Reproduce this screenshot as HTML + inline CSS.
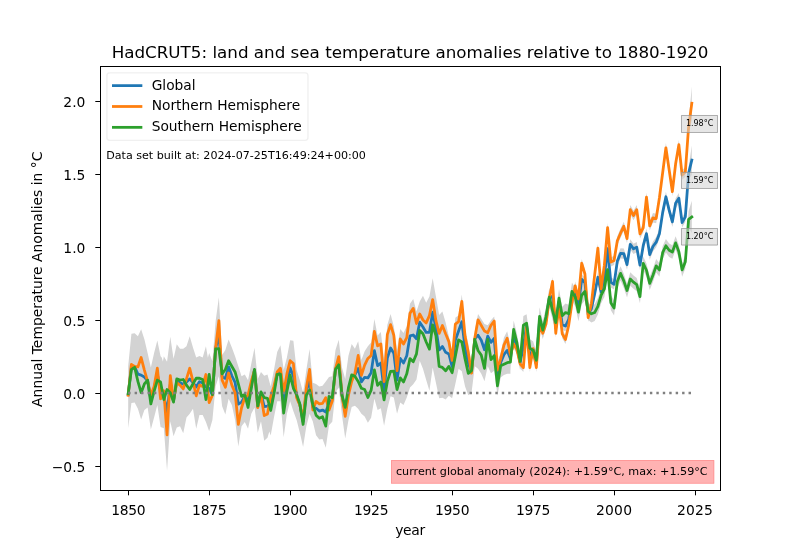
<!DOCTYPE html>
<html><head><meta charset="utf-8"><title>HadCRUT5</title><style>html,body{margin:0;padding:0;background:#fff}svg{display:block}</style></head><body>
<svg  width="800" height="550" viewBox="0 0 576 396">
 
 <defs>
  <style type="text/css">*{stroke-linejoin: round; stroke-linecap: butt}</style>
 </defs>
 <g id="figure_1">
  <g id="patch_1">
   <path d="M 0 396 
L 576 396 
L 576 0 
L 0 0 
z
" style="fill: #ffffff"/>
  </g>
  <g id="axes_1">
   <g id="patch_2">
    <path d="M 72 352.44 
L 518.4 352.44 
L 518.4 47.52 
L 72 47.52 
z
" style="fill: #ffffff"/>
   </g>
   <g id="patch_3">
    <path d="M 92.290909 263.708591 
L 94.623197 240.22605 
L 96.955486 239.955098 
L 99.287774 242.0324 
L 101.620063 237.064939 
L 103.952351 244.290336 
L 106.284639 254.225257 
L 108.616928 264.611765 
L 110.949216 254.225257 
L 113.281505 245.193511 
L 115.613793 256.483194 
L 116.430094 257.386368 
L 117.293041 260.276527 
L 117.946082 256.483194 
L 120.27837 260.547479 
L 122.610658 242.483987 
L 124.942947 258.289543 
L 127.275235 247.903035 
L 129.607524 251.064146 
L 131.939812 251.064146 
L 134.2721 249.257797 
L 136.604389 242.0324 
L 138.936677 250.160971 
L 141.268966 257.386368 
L 143.601254 256.302559 
L 145.933542 257.386368 
L 148.265831 249.257797 
L 149.665204 257.567003 
L 150.598119 254.225257 
L 152.930408 260.095892 
L 155.262696 231.194304 
L 157.594984 214.086344 
L 159.927273 255.632377 
L 162.259561 252.019678 
L 164.59185 244.523329 
L 166.924138 250.213329 
L 169.256426 256.535552 
L 171.588715 263.760949 
L 173.921003 270.986346 
L 176.253292 269.631584 
L 178.58558 273.695869 
L 180.917868 261.954599 
L 183.250157 250.303647 
L 185.582445 272.792695 
L 187.914734 267.825234 
L 190.247022 270.534758 
L 192.57931 269.631584 
L 194.911599 278.211743 
L 197.243887 266.470472 
L 199.576176 253.37444 
L 201.908464 248.587615 
L 204.240752 266.470472 
L 206.573041 257.438726 
L 208.905329 244.974916 
L 211.237618 245.426504 
L 213.569906 266.470472 
L 215.902194 273.695869 
L 218.234483 282.727616 
L 220.566771 266.470472 
L 222.89906 251.297139 
L 225.231348 275.502219 
L 227.563636 276.405393 
L 229.895925 278.211743 
L 232.228213 277.760155 
L 234.560502 274.599044 
L 236.89279 271.437933 
L 239.225078 270.986346 
L 241.557367 252.019678 
L 243.889655 244.613646 
L 246.221944 264.664123 
L 248.554232 272.792695 
L 250.88652 256.083964 
L 253.218809 247.68444 
L 255.551097 251.116504 
L 257.883386 245.697456 
L 260.215674 259.245075 
L 262.547962 252.922853 
L 264.880251 249.310155 
L 267.212539 246.600631 
L 269.544828 229.711265 
L 271.877116 241.63317 
L 274.209404 239.104281 
L 276.541693 259.245075 
L 278.873981 233.956186 
L 281.20627 226.008249 
L 283.538558 234.859361 
L 285.870846 252.019678 
L 288.203135 236.936662 
L 290.535423 239.826821 
L 292.867712 234.859361 
L 295.2 218.782852 
L 297.532288 215.248691 
L 299.864577 224.280437 
L 302.196865 217.05504 
L 304.529154 212.990754 
L 306.861442 217.958215 
L 309.19373 213.442341 
L 311.526019 200.346309 
L 313.858307 213.442341 
L 316.190596 226.809326 
L 318.522884 224.280437 
L 320.855172 232.228374 
L 323.187461 242.163294 
L 325.519749 253.904565 
L 327.852038 228.79631 
L 330.184326 226.989961 
L 332.516614 212.087579 
L 334.848903 236.744247 
L 337.181191 247.582342 
L 339.51348 262.936311 
L 341.845768 238.550596 
L 344.178056 226.086786 
L 346.510345 229.699485 
L 348.842633 233.312183 
L 351.174922 234.215358 
L 353.50721 230.602659 
L 355.839498 227.893135 
L 358.171787 260.226787 
L 360.504075 253.904565 
L 362.836364 243.066469 
L 365.168652 238.550596 
L 367.50094 248.392581 
L 367.50094 269.126329 
L 365.168652 269.168216 
L 362.836364 270.07139 
L 360.504075 271.87774 
L 358.171787 284.973772 
L 355.839498 266.910279 
L 353.50721 268.716628 
L 351.174922 263.749168 
L 348.842633 274.587264 
L 346.510345 269.168216 
L 344.178056 265.555517 
L 341.845768 263.749168 
L 339.51348 282.715835 
L 337.181191 284.522184 
L 334.848903 278.199962 
L 332.516614 267.361867 
L 330.184326 265.555517 
L 327.852038 276.393613 
L 325.519749 286.780121 
L 323.187461 284.973772 
L 320.855172 287.683296 
L 318.522884 286.328534 
L 316.190596 286.780121 
L 313.858307 275.490438 
L 311.526019 264.652343 
L 309.19373 281.361073 
L 306.861442 273.684089 
L 304.529154 265.555517 
L 302.196865 259.684882 
L 299.864577 273.232502 
L 297.532288 276.574248 
L 295.2 279.023291 
L 292.867712 286.248688 
L 290.535423 291.667736 
L 288.203135 289.861386 
L 285.870846 297.989958 
L 283.538558 286.248688 
L 281.20627 285.345513 
L 278.873981 294.377259 
L 276.541693 306.570117 
L 274.209404 293.925672 
L 271.877116 295.280434 
L 269.544828 287.151862 
L 267.212539 300.699482 
L 264.880251 304.31218 
L 262.547962 299.796307 
L 260.215674 297.989958 
L 257.883386 294.377259 
L 255.551097 292.119323 
L 253.218809 293.022497 
L 250.88652 302.505831 
L 248.554232 315.692181 
L 246.221944 298.893133 
L 243.889655 279.023291 
L 241.557367 282.635989 
L 239.225078 303.589641 
L 236.89279 306.11853 
L 234.560502 322.375673 
L 232.228213 316.05345 
L 229.895925 316.505038 
L 227.563636 313.343927 
L 225.231348 303.409006 
L 222.89906 297.950689 
L 220.566771 306.982436 
L 218.234483 321.884817 
L 215.902194 311.498309 
L 213.569906 302.466563 
L 211.237618 296.14434 
L 208.905329 288.918943 
L 206.573041 297.950689 
L 204.240752 314.840055 
L 201.908464 288.918943 
L 199.576176 288.918943 
L 197.243887 300.660213 
L 194.911599 313.485293 
L 193.908715 310.595134 
L 192.57931 315.111007 
L 190.247022 317.368944 
L 187.914734 303.369737 
L 185.582445 311.498309 
L 183.250157 293.434816 
L 180.917868 297.950689 
L 178.58558 308.788785 
L 176.253292 303.821325 
L 173.921003 306.982436 
L 171.588715 321.43323 
L 169.256426 302.466563 
L 166.924138 291.628467 
L 164.59185 287.112594 
L 162.259561 298.402277 
L 159.927273 292.531642 
L 157.594984 270.855451 
L 155.262696 278.054669 
L 152.930408 302.440384 
L 150.598119 310.568955 
L 148.265831 303.795146 
L 145.933542 298.827685 
L 143.601254 298.827685 
L 141.268966 308.762606 
L 138.936677 294.311812 
L 136.604389 297.92451 
L 134.2721 300.634034 
L 131.939812 311.923717 
L 129.607524 306.956257 
L 127.275235 307.859431 
L 124.942947 314.181654 
L 122.610658 303.343558 
L 120.27837 339.018956 
L 117.946082 308.311019 
L 115.613793 307.407844 
L 113.281505 291.602288 
L 110.949216 300.634034 
L 108.616928 309.214193 
L 106.284639 293.408637 
L 103.952351 295.214987 
L 101.620063 301.988796 
L 99.287774 294.311812 
L 96.955486 289.795939 
L 94.623197 290.247526 
L 92.290909 308.311019 
z
" clip-path="url(#p173bf9225e)" style="fill: #d3d3d3"/>
   </g>
   <g id="patch_4">
    <path d="M 367.50094 254.555112 
L 369.833229 238.749556 
L 372.165517 245.523366 
L 374.497806 257.49043 
L 376.830094 245.704001 
L 379.162382 230.575826 
L 381.494671 254.058366 
L 383.826959 247.87162 
L 386.159248 258.348446 
L 388.491536 227.23408 
L 390.823824 235.136858 
L 393.156113 226.782492 
L 395.488401 210.931778 
L 397.82069 209.486698 
L 400.152978 232.427334 
L 402.485266 213.460667 
L 404.817555 230.169397 
L 407.149843 231.072572 
L 409.482132 226.330905 
L 411.81442 210.254397 
L 414.146708 206.190111 
L 416.478997 216.350825 
L 418.811285 197.384158 
L 421.143574 199.867889 
L 423.475862 222.718207 
L 425.80815 218.653921 
L 428.140439 207.906143 
L 430.472727 195.939079 
L 432.805016 206.641698 
L 435.137304 195.803603 
L 437.469592 175.298266 
L 439.801881 199.638823 
L 442.134169 200.993584 
L 444.466458 184.330013 
L 446.798746 178.685171 
L 449.131034 178.910965 
L 451.463323 186.813743 
L 453.795611 172.227473 
L 456.1279 175.478901 
L 458.460188 174.259616 
L 460.792476 187.26533 
L 463.124765 173.175806 
L 465.457053 164.550488 
L 467.789342 179.678663 
L 470.12163 173.808028 
L 472.453918 170.692076 
L 474.786207 164.685964 
L 477.118495 149.422313 
L 479.450784 137.997154 
L 481.783072 147.661123 
L 484.115361 156.060647 
L 486.447649 142.738821 
L 488.779937 138.990646 
L 491.112226 156.512234 
L 493.444514 152.447948 
L 495.776803 120.417187 
L 498.109091 104.747239 
L 498.109091 125.768955 
L 495.776803 129.246308 
L 493.444514 159.805549 
L 491.112226 163.869835 
L 488.779937 146.348247 
L 486.447649 150.096422 
L 484.115361 163.418248 
L 481.783072 155.018724 
L 479.450784 145.354755 
L 477.118495 156.779914 
L 474.786207 172.043565 
L 472.453918 178.049677 
L 470.12163 181.165629 
L 467.789342 187.036264 
L 465.457053 171.908089 
L 463.124765 180.533407 
L 460.792476 194.622931 
L 458.460188 181.617216 
L 456.1279 182.836502 
L 453.795611 179.585073 
L 451.463323 194.171344 
L 449.131034 186.268566 
L 446.798746 186.042772 
L 444.466458 191.687613 
L 442.134169 208.351185 
L 439.801881 206.996423 
L 437.469592 182.655867 
L 435.137304 203.161204 
L 432.805016 213.999299 
L 430.472727 203.29668 
L 428.140439 215.263744 
L 425.80815 226.011522 
L 423.475862 230.075807 
L 421.143574 207.225489 
L 418.811285 204.741759 
L 416.478997 223.708426 
L 414.146708 213.547712 
L 411.81442 217.611998 
L 409.482132 233.688506 
L 407.149843 238.430173 
L 404.817555 237.526998 
L 402.485266 220.818267 
L 400.152978 239.784935 
L 397.82069 216.844299 
L 395.488401 218.289379 
L 393.156113 234.140093 
L 390.823824 242.494459 
L 388.491536 234.591681 
L 386.159248 265.706046 
L 383.826959 255.229221 
L 381.494671 261.415967 
L 379.162382 237.933427 
L 376.830094 253.061602 
L 374.497806 264.84803 
L 372.165517 252.880967 
L 369.833229 246.107157 
L 367.50094 261.912713 
z
" clip-path="url(#p173bf9225e)" style="fill: #d3d3d3"/>
   </g>
   <g id="patch_5">
    <path d="M 367.50094 252.596925 
L 369.833229 244.468353 
L 372.165517 248.532639 
L 374.497806 258.919147 
L 376.830094 261.538354 
L 379.162382 232.636766 
L 381.494671 261.538354 
L 383.826959 247.810099 
L 386.159248 261.538354 
L 388.491536 230.920734 
L 390.823824 236.791369 
L 393.156113 230.017559 
L 395.488401 212.134702 
L 397.82069 199.490257 
L 400.152978 236.791369 
L 402.485266 216.46994 
L 404.817555 237.242956 
L 407.149843 241.307242 
L 409.482132 230.920734 
L 411.81442 214.844225 
L 414.146708 202.651368 
L 416.478997 212.134702 
L 418.811285 186.394225 
L 421.143574 194.057195 
L 423.475862 225.473657 
L 425.80815 215.524722 
L 428.140439 194.918326 
L 430.472727 175.486057 
L 432.805016 204.825218 
L 435.137304 187.650885 
L 437.469592 160.583518 
L 439.801881 185.406806 
L 442.134169 184.218665 
L 444.466458 170.024809 
L 446.798746 164.591746 
L 449.131034 159.610271 
L 451.463323 168.447368 
L 453.795611 147.57002 
L 456.1279 151.814941 
L 458.460188 147.57002 
L 460.792476 165.00129 
L 463.124765 160.75637 
L 465.457053 138.538274 
L 467.789342 159.31129 
L 470.12163 153.440655 
L 472.453918 153.98256 
L 474.786207 138.989861 
L 477.118495 120.926369 
L 479.450784 103.043511 
L 481.783072 119.120019 
L 484.115361 134.654623 
L 486.447649 114.604146 
L 488.779937 100.785574 
L 491.112226 122.6424 
L 493.444514 120.474781 
L 495.776803 87.64907 
L 498.109091 62.256799 
L 498.109091 86.431773 
L 495.776803 95.721409 
L 493.444514 127.201731 
L 491.112226 129.36935 
L 488.779937 107.512524 
L 486.447649 121.331095 
L 484.115361 141.381572 
L 481.783072 125.846969 
L 479.450784 109.77046 
L 477.118495 127.653318 
L 474.786207 145.71681 
L 472.453918 160.709509 
L 470.12163 160.167604 
L 467.789342 166.038239 
L 465.457053 145.265223 
L 463.124765 167.483319 
L 460.792476 171.72824 
L 458.460188 154.296969 
L 456.1279 158.54189 
L 453.795611 154.296969 
L 451.463323 175.146289 
L 449.131034 166.281163 
L 446.798746 171.234609 
L 444.466458 176.639642 
L 442.134169 190.805469 
L 439.801881 191.965582 
L 437.469592 167.114265 
L 435.137304 194.153603 
L 432.805016 211.299906 
L 430.472727 181.932717 
L 428.140439 201.336957 
L 425.80815 221.915324 
L 423.475862 231.83623 
L 421.143574 200.391739 
L 418.811285 192.70074 
L 416.478997 218.441217 
L 414.146708 208.957883 
L 411.81442 221.15074 
L 409.482132 237.227249 
L 407.149843 247.613757 
L 404.817555 243.549471 
L 402.485266 222.776455 
L 400.152978 243.097884 
L 397.82069 205.796772 
L 395.488401 218.441217 
L 393.156113 236.324074 
L 390.823824 243.097884 
L 388.491536 237.227249 
L 386.159248 267.844869 
L 383.826959 254.116614 
L 381.494671 267.844869 
L 379.162382 238.943281 
L 376.830094 267.844869 
L 374.497806 265.225662 
L 372.165517 254.839154 
L 369.833229 250.774868 
L 367.50094 258.90344 
z
" clip-path="url(#p173bf9225e)" style="fill: #d3d3d3"/>
   </g>
   <g id="patch_6">
    <path d="M 367.50094 254.200911 
L 369.833229 230.71837 
L 372.165517 240.201704 
L 374.497806 253.749323 
L 376.830094 227.557259 
L 379.162382 226.202497 
L 381.494671 244.26599 
L 383.826959 245.620752 
L 386.159248 252.846149 
L 388.491536 221.235037 
L 390.823824 231.169958 
L 393.156113 221.235037 
L 395.488401 207.416465 
L 397.82069 217.170751 
L 400.152978 225.75091 
L 402.485266 208.139005 
L 404.817555 220.783449 
L 407.149843 218.525513 
L 409.482132 219.428688 
L 411.81442 203.352179 
L 414.146708 207.416465 
L 416.478997 218.25456 
L 418.811285 206.061703 
L 421.143574 203.464295 
L 423.475862 217.84657 
L 425.80815 219.765035 
L 428.140439 218.973976 
L 430.472727 214.570219 
L 432.805016 206.734398 
L 435.137304 202.330641 
L 437.469592 188.485436 
L 439.801881 212.441362 
L 442.134169 216.437129 
L 444.466458 197.401943 
L 446.798746 191.643423 
L 449.131034 197.174587 
L 451.463323 204.241147 
L 453.795611 196.044057 
L 456.1279 198.301993 
L 458.460188 200.108342 
L 460.792476 208.688501 
L 463.124765 184.754374 
L 465.457053 189.721834 
L 467.789342 199.205168 
L 470.12163 193.334533 
L 472.453918 186.560723 
L 474.786207 189.541199 
L 477.118495 177.077389 
L 479.450784 172.109929 
L 481.783072 175.361358 
L 484.115361 176.625802 
L 486.447649 170.032627 
L 488.779937 176.35485 
L 491.112226 189.541199 
L 493.444514 183.580247 
L 495.776803 152.176263 
L 498.109091 144.609963 
L 498.109091 167.733852 
L 495.776803 163.780251 
L 493.444514 193.250236 
L 491.112226 199.211189 
L 488.779937 186.024839 
L 486.447649 179.702617 
L 484.115361 186.295792 
L 481.783072 185.031347 
L 479.450784 181.779919 
L 477.118495 186.747379 
L 474.786207 199.211189 
L 472.453918 196.230713 
L 470.12163 203.004522 
L 467.789342 208.875157 
L 465.457053 199.391824 
L 463.124765 194.424363 
L 460.792476 218.358491 
L 458.460188 209.778332 
L 456.1279 207.971983 
L 453.795611 205.714046 
L 451.463323 214.135369 
L 449.131034 207.29304 
L 446.798746 201.986108 
L 444.466458 207.968859 
L 442.134169 227.228277 
L 439.801881 223.456742 
L 437.469592 199.725047 
L 435.137304 213.794483 
L 432.805016 218.422472 
L 430.472727 226.482525 
L 428.140439 231.110514 
L 425.80815 232.125804 
L 423.475862 230.431571 
L 421.143574 216.273528 
L 418.811285 219.095167 
L 416.478997 231.288025 
L 414.146708 220.449929 
L 411.81442 216.385643 
L 409.482132 232.462152 
L 407.149843 231.558977 
L 404.817555 233.816914 
L 402.485266 221.172469 
L 400.152978 238.784374 
L 397.82069 230.204215 
L 395.488401 220.449929 
L 393.156113 234.268501 
L 390.823824 244.203422 
L 388.491536 234.268501 
L 386.159248 265.879613 
L 383.826959 258.654216 
L 381.494671 257.299454 
L 379.162382 239.235962 
L 376.830094 240.590723 
L 374.497806 266.782788 
L 372.165517 253.235168 
L 369.833229 243.751835 
L 367.50094 267.234375 
z
" clip-path="url(#p173bf9225e)" style="fill: #d3d3d3"/>
   </g>
   <g id="matplotlib.axis_1">
    <g id="xtick_1">
     
     <g id="text_1">
      <text style="font-size: 10px; font-family: 'DejaVu Sans', 'Bitstream Vera Sans', 'Computer Modern Sans Serif', 'Lucida Grande', 'Verdana', 'Geneva', 'Lucid', 'Arial', 'Helvetica', 'Avant Garde', sans-serif; text-anchor: middle" letter-spacing="-0.22" x="92.290909" y="370.538437" transform="rotate(-0 92.290909 370.538437)">1850</text>
     </g>
    </g>
    <g id="xtick_2">
     
     <g id="text_2">
      <text style="font-size: 10px; font-family: 'DejaVu Sans', 'Bitstream Vera Sans', 'Computer Modern Sans Serif', 'Lucida Grande', 'Verdana', 'Geneva', 'Lucid', 'Arial', 'Helvetica', 'Avant Garde', sans-serif; text-anchor: middle" letter-spacing="-0.22" x="150.598119" y="370.538437" transform="rotate(-0 150.598119 370.538437)">1875</text>
     </g>
    </g>
    <g id="xtick_3">
     
     <g id="text_3">
      <text style="font-size: 10px; font-family: 'DejaVu Sans', 'Bitstream Vera Sans', 'Computer Modern Sans Serif', 'Lucida Grande', 'Verdana', 'Geneva', 'Lucid', 'Arial', 'Helvetica', 'Avant Garde', sans-serif; text-anchor: middle" letter-spacing="-0.22" x="208.905329" y="370.538437" transform="rotate(-0 208.905329 370.538437)">1900</text>
     </g>
    </g>
    <g id="xtick_4">
     
     <g id="text_4">
      <text style="font-size: 10px; font-family: 'DejaVu Sans', 'Bitstream Vera Sans', 'Computer Modern Sans Serif', 'Lucida Grande', 'Verdana', 'Geneva', 'Lucid', 'Arial', 'Helvetica', 'Avant Garde', sans-serif; text-anchor: middle" letter-spacing="-0.22" x="267.212539" y="370.538437" transform="rotate(-0 267.212539 370.538437)">1925</text>
     </g>
    </g>
    <g id="xtick_5">
     
     <g id="text_5">
      <text style="font-size: 10px; font-family: 'DejaVu Sans', 'Bitstream Vera Sans', 'Computer Modern Sans Serif', 'Lucida Grande', 'Verdana', 'Geneva', 'Lucid', 'Arial', 'Helvetica', 'Avant Garde', sans-serif; text-anchor: middle" letter-spacing="-0.22" x="325.519749" y="370.538437" transform="rotate(-0 325.519749 370.538437)">1950</text>
     </g>
    </g>
    <g id="xtick_6">
     
     <g id="text_6">
      <text style="font-size: 10px; font-family: 'DejaVu Sans', 'Bitstream Vera Sans', 'Computer Modern Sans Serif', 'Lucida Grande', 'Verdana', 'Geneva', 'Lucid', 'Arial', 'Helvetica', 'Avant Garde', sans-serif; text-anchor: middle" letter-spacing="-0.22" x="383.826959" y="370.538437" transform="rotate(-0 383.826959 370.538437)">1975</text>
     </g>
    </g>
    <g id="xtick_7">
     
     <g id="text_7">
      <text style="font-size: 10px; font-family: 'DejaVu Sans', 'Bitstream Vera Sans', 'Computer Modern Sans Serif', 'Lucida Grande', 'Verdana', 'Geneva', 'Lucid', 'Arial', 'Helvetica', 'Avant Garde', sans-serif; text-anchor: middle" letter-spacing="0.17" x="442.134169" y="370.538437" transform="rotate(-0 442.134169 370.538437)">2000</text>
     </g>
    </g>
    <g id="xtick_8">
     
     <g id="text_8">
      <text style="font-size: 10px; font-family: 'DejaVu Sans', 'Bitstream Vera Sans', 'Computer Modern Sans Serif', 'Lucida Grande', 'Verdana', 'Geneva', 'Lucid', 'Arial', 'Helvetica', 'Avant Garde', sans-serif; text-anchor: middle" letter-spacing="0.17" x="500.441379" y="370.538437" transform="rotate(-0 500.441379 370.538437)">2025</text>
     </g>
    </g>
    <g id="text_9">
     <text style="font-size: 10px; font-family: 'DejaVu Sans', 'Bitstream Vera Sans', 'Computer Modern Sans Serif', 'Lucida Grande', 'Verdana', 'Geneva', 'Lucid', 'Arial', 'Helvetica', 'Avant Garde', sans-serif; text-anchor: middle" letter-spacing="-0.22" x="295.2" y="384.864563" transform="rotate(-0 295.2 384.864563)">year</text>
    </g>
   </g>
   <g id="matplotlib.axis_2">
    <g id="ytick_1">
     
     <g id="text_10">
      <text style="font-size: 10px; font-family: 'DejaVu Sans', 'Bitstream Vera Sans', 'Computer Modern Sans Serif', 'Lucida Grande', 'Verdana', 'Geneva', 'Lucid', 'Arial', 'Helvetica', 'Avant Garde', sans-serif; text-anchor: end" x="61.5" y="339.892737" transform="rotate(-0 61.5 339.892737)">−0.5</text>
     </g>
    </g>
    <g id="ytick_2">
     
     <g id="text_11">
      <text style="font-size: 10px; font-family: 'DejaVu Sans', 'Bitstream Vera Sans', 'Computer Modern Sans Serif', 'Lucida Grande', 'Verdana', 'Geneva', 'Lucid', 'Arial', 'Helvetica', 'Avant Garde', sans-serif; text-anchor: end" x="61.5" y="287.338445" transform="rotate(-0 61.5 287.338445)">0.0</text>
     </g>
    </g>
    <g id="ytick_3">
     
     <g id="text_12">
      <text style="font-size: 10px; font-family: 'DejaVu Sans', 'Bitstream Vera Sans', 'Computer Modern Sans Serif', 'Lucida Grande', 'Verdana', 'Geneva', 'Lucid', 'Arial', 'Helvetica', 'Avant Garde', sans-serif; text-anchor: end" x="61.5" y="234.784154" transform="rotate(-0 61.5 234.784154)">0.5</text>
     </g>
    </g>
    <g id="ytick_4">
     
     <g id="text_13">
      <text style="font-size: 10px; font-family: 'DejaVu Sans', 'Bitstream Vera Sans', 'Computer Modern Sans Serif', 'Lucida Grande', 'Verdana', 'Geneva', 'Lucid', 'Arial', 'Helvetica', 'Avant Garde', sans-serif; text-anchor: end" x="61.5" y="182.229862" transform="rotate(-0 61.5 182.229862)">1.0</text>
     </g>
    </g>
    <g id="ytick_5">
     
     <g id="text_14">
      <text style="font-size: 10px; font-family: 'DejaVu Sans', 'Bitstream Vera Sans', 'Computer Modern Sans Serif', 'Lucida Grande', 'Verdana', 'Geneva', 'Lucid', 'Arial', 'Helvetica', 'Avant Garde', sans-serif; text-anchor: end" x="61.5" y="129.67557" transform="rotate(-0 61.5 129.67557)">1.5</text>
     </g>
    </g>
    <g id="ytick_6">
     
     <g id="text_15">
      <text style="font-size: 10px; font-family: 'DejaVu Sans', 'Bitstream Vera Sans', 'Computer Modern Sans Serif', 'Lucida Grande', 'Verdana', 'Geneva', 'Lucid', 'Arial', 'Helvetica', 'Avant Garde', sans-serif; text-anchor: end" x="61.5" y="77.121279" transform="rotate(-0 61.5 77.121279)">2.0</text>
     </g>
    </g>
    <g id="text_16">
     <text style="font-size: 10px; font-family: 'DejaVu Sans', 'Bitstream Vera Sans', 'Computer Modern Sans Serif', 'Lucida Grande', 'Verdana', 'Geneva', 'Lucid', 'Arial', 'Helvetica', 'Avant Garde', sans-serif; text-anchor: middle" x="30.2735" y="201.06" transform="rotate(-90 30.2735 201.06)">Annual Temperature Anomalies in °C</text>
    </g>
   </g>
   <g id="line2d_15">
    <path d="M 92.290909 283.99206 
L 94.623197 264.212536 
L 96.955486 264.122218 
L 99.287774 269.40579 
L 101.620063 270.083171 
L 103.952351 271.437933 
L 106.284639 274.147457 
L 108.616928 287.695076 
L 110.949216 280.018092 
L 113.281505 269.40579 
L 115.613793 281.14706 
L 117.946082 284.533965 
L 120.27837 296.81714 
L 122.610658 276.631187 
L 124.942947 288.824044 
L 127.275235 274.147457 
L 129.607524 275.502219 
L 131.939812 276.631187 
L 134.2721 275.050631 
L 136.604389 272.792695 
L 138.936677 275.502219 
L 141.268966 278.66333 
L 143.601254 274.824838 
L 145.933542 275.728012 
L 148.265831 278.66333 
L 150.598119 279.792298 
L 152.930408 284.308171 
L 155.262696 250.845551 
L 157.594984 240.865472 
L 159.927273 271.437933 
L 162.259561 272.431425 
L 164.59185 264.122218 
L 166.924138 270.534758 
L 169.256426 275.276425 
L 171.588715 290.991664 
L 173.921003 289.501425 
L 176.253292 285.211346 
L 178.58558 288.959521 
L 180.917868 277.308568 
L 183.250157 266.244679 
L 185.582445 292.88833 
L 187.914734 283.314679 
L 190.247022 292.798013 
L 192.57931 292.436743 
L 194.911599 290.494917 
L 197.243887 280.921266 
L 199.576176 268.728409 
L 201.908464 267.238171 
L 204.240752 290.088489 
L 206.573041 275.502219 
L 208.905329 264.889917 
L 211.237618 270.670234 
L 213.569906 285.211346 
L 215.902194 291.307775 
L 218.234483 303.636108 
L 220.566771 281.824441 
L 222.89906 273.424917 
L 225.231348 293.2496 
L 227.563636 293.97214 
L 229.895925 295.959124 
L 232.228213 295.236584 
L 234.560502 296.591346 
L 236.89279 290.359441 
L 239.225078 287.5596 
L 241.557367 265.793091 
L 243.889655 259.741821 
L 246.221944 284.533965 
L 248.554232 296.546187 
L 250.88652 281.824441 
L 253.218809 272.25079 
L 255.551097 269.857377 
L 257.883386 265.251187 
L 260.215674 274.915155 
L 262.547962 271.663727 
L 264.880251 272.115314 
L 267.212539 268.412298 
L 269.544828 252.471266 
L 271.877116 263.264203 
L 274.209404 261.367536 
L 276.541693 281.327695 
L 278.873981 257.754837 
L 281.20627 250.52944 
L 283.538558 254.277615 
L 285.870846 273.695869 
L 288.203135 258.070948 
L 290.535423 261.367536 
L 292.867712 256.174282 
L 295.2 241.858964 
L 297.532288 241.214961 
L 299.864577 243.879326 
L 302.196865 232.00258 
L 304.529154 235.389485 
L 306.861442 239.363453 
L 309.19373 239.318294 
L 311.526019 224.777183 
L 313.858307 236.292659 
L 316.190596 251.962739 
L 318.522884 249.43385 
L 320.855172 253.678771 
L 323.187461 254.898057 
L 325.519749 263.929803 
L 327.852038 244.963136 
L 332.516614 231.64131 
L 334.848903 250.291866 
L 337.181191 261.355755 
L 339.51348 267.768295 
L 341.845768 243.969644 
L 344.178056 241.305279 
L 346.510345 244.963136 
L 348.842633 251.782104 
L 351.174922 242.027818 
L 353.50721 246.543691 
L 355.839498 243.563215 
L 358.171787 272.103533 
L 360.504075 260.904168 
L 362.836364 255.349644 
L 365.168652 252.324009 
L 367.50094 258.233913 
L 369.833229 242.428357 
L 372.165517 249.202166 
L 374.497806 261.16923 
L 376.830094 249.382801 
L 379.162382 234.254626 
L 381.494671 257.737166 
L 383.826959 251.55042 
L 386.159248 262.027246 
L 388.491536 230.91288 
L 390.823824 238.815658 
L 393.156113 230.461293 
L 395.488401 214.610578 
L 397.82069 213.165499 
L 400.152978 236.106134 
L 402.485266 217.139467 
L 404.817555 233.848198 
L 407.149843 234.751372 
L 409.482132 230.009705 
L 411.81442 213.933197 
L 414.146708 209.868911 
L 416.478997 220.029626 
L 418.811285 201.062959 
L 421.143574 203.546689 
L 423.475862 226.397007 
L 425.80815 222.332721 
L 428.140439 211.584943 
L 430.472727 199.617879 
L 432.805016 210.320499 
L 435.137304 199.482403 
L 437.469592 178.977067 
L 439.801881 203.317623 
L 442.134169 204.672385 
L 444.466458 188.008813 
L 446.798746 182.363972 
L 449.131034 182.589765 
L 451.463323 190.492543 
L 453.795611 175.906273 
L 456.1279 179.157702 
L 458.460188 177.938416 
L 460.792476 190.944131 
L 463.124765 176.854606 
L 465.457053 168.229289 
L 467.789342 183.357464 
L 470.12163 177.486829 
L 472.453918 174.370876 
L 474.786207 168.364765 
L 477.118495 153.101114 
L 479.450784 141.675955 
L 481.783072 151.339923 
L 484.115361 159.739447 
L 486.447649 146.417622 
L 488.779937 142.669447 
L 491.112226 160.191035 
L 493.444514 156.126749 
L 495.776803 124.831748 
L 498.109091 115.258097 
L 498.109091 115.258097 
" clip-path="url(#p173bf9225e)" style="fill: none; stroke: #1f77b4; stroke-width: 2; stroke-linecap: square"/>
   </g>
   <g id="line2d_16">
    <path d="M 92.290909 284.533965 
L 94.623197 262.406187 
L 96.955486 263.760949 
L 99.287774 264.212536 
L 101.620063 257.438726 
L 103.952351 266.470472 
L 106.284639 274.599044 
L 108.616928 284.533965 
L 110.949216 278.211743 
L 113.281505 265.115711 
L 115.613793 287.243489 
L 117.946082 281.372854 
L 120.27837 313.164601 
L 122.610658 270.534758 
L 124.942947 288.146663 
L 127.275235 275.502219 
L 129.607524 277.308568 
L 131.939812 280.018092 
L 134.2721 272.792695 
L 136.604389 265.115711 
L 138.936677 274.599044 
L 141.268966 284.985552 
L 143.601254 277.308568 
L 145.933542 278.211743 
L 148.265831 269.631584 
L 150.598119 289.953013 
L 152.930408 284.533965 
L 155.262696 250.574599 
L 157.594984 230.795075 
L 159.927273 273.695869 
L 162.259561 278.843965 
L 164.59185 268.547774 
L 166.924138 277.308568 
L 169.256426 282.727616 
L 171.588715 305.577934 
L 173.921003 293.565711 
L 176.253292 286.340314 
L 178.58558 284.533965 
L 180.917868 274.599044 
L 183.250157 266.470472 
L 185.582445 293.565711 
L 187.914734 284.533965 
L 190.247022 299.255711 
L 192.57931 298.081584 
L 194.911599 285.43714 
L 197.243887 278.211743 
L 199.576176 267.825234 
L 201.908464 265.115711 
L 204.240752 282.727616 
L 206.573041 269.179996 
L 208.905329 259.696663 
L 211.237618 261.773964 
L 213.569906 286.340314 
L 215.902194 291.759362 
L 218.234483 301.694283 
L 220.566771 279.114917 
L 222.89906 266.018885 
L 225.231348 295.191426 
L 227.563636 289.049838 
L 229.895925 290.76587 
L 232.228213 290.4046 
L 234.560502 286.340314 
L 236.89279 295.281743 
L 239.225078 288.778886 
L 241.557367 265.567298 
L 243.889655 256.806504 
L 246.221944 284.533965 
L 248.554232 299.797616 
L 250.88652 284.533965 
L 253.218809 274.599044 
L 255.551097 268.728409 
L 257.883386 255.903329 
L 260.215674 270.263806 
L 262.547962 262.857774 
L 264.880251 258.070948 
L 267.212539 255.903329 
L 269.544828 238.652694 
L 271.877116 249.039202 
L 274.209404 247.68444 
L 276.541693 274.689362 
L 278.873981 240.910631 
L 281.20627 233.685234 
L 283.538558 241.362218 
L 285.870846 266.92206 
L 288.203135 244.071742 
L 290.535423 247.68444 
L 292.867712 243.168567 
L 295.2 225.556662 
L 297.532288 222.0225 
L 299.864577 232.950913 
L 302.196865 226.086786 
L 304.529154 230.422024 
L 306.861442 232.499326 
L 309.19373 227.260913 
L 311.526019 215.700278 
L 313.858307 230.873612 
L 316.190596 240.085993 
L 318.522884 234.305675 
L 320.855172 240.356945 
L 323.187461 245.956628 
L 325.519749 259.504247 
L 327.852038 233.312183 
L 330.184326 231.596151 
L 332.516614 217.05504 
L 334.848903 242.163294 
L 337.181191 253.904565 
L 339.51348 268.716628 
L 341.845768 243.518056 
L 344.178056 230.241389 
L 348.842633 238.369961 
L 351.174922 239.634406 
L 353.50721 234.215358 
L 355.839498 231.144564 
L 358.171787 266.458692 
L 360.504075 258.420438 
L 362.836364 248.485517 
L 365.168652 243.518056 
L 367.50094 255.750182 
L 369.833229 247.621611 
L 372.165517 251.685897 
L 374.497806 262.072405 
L 376.830094 264.691611 
L 379.162382 235.790023 
L 381.494671 264.691611 
L 383.826959 250.963357 
L 386.159248 264.691611 
L 388.491536 234.073991 
L 390.823824 239.944626 
L 393.156113 233.170817 
L 395.488401 215.287959 
L 397.82069 202.643514 
L 400.152978 239.944626 
L 402.485266 219.623197 
L 404.817555 240.396214 
L 407.149843 244.460499 
L 409.482132 234.073991 
L 411.81442 217.997483 
L 414.146708 205.804626 
L 416.478997 215.287959 
L 418.811285 189.547482 
L 421.143574 197.224467 
L 423.475862 228.654944 
L 425.80815 218.720023 
L 428.140439 198.127641 
L 430.472727 178.709387 
L 432.805016 208.062562 
L 435.137304 190.902244 
L 437.469592 163.848892 
L 439.801881 188.686194 
L 442.134169 187.512067 
L 444.466458 173.332225 
L 446.798746 167.913178 
L 449.131034 162.945717 
L 451.463323 171.796828 
L 453.795611 150.933495 
L 456.1279 155.178415 
L 458.460188 150.933495 
L 460.792476 168.364765 
L 463.124765 164.119844 
L 465.457053 141.901748 
L 467.789342 162.674765 
L 470.12163 156.80413 
L 472.453918 157.346034 
L 474.786207 142.353336 
L 479.450784 106.406986 
L 484.115361 138.018097 
L 486.447649 117.967621 
L 488.779937 104.149049 
L 491.112226 126.005875 
L 493.444514 123.838256 
L 495.776803 91.685239 
L 498.109091 74.344286 
L 498.109091 74.344286 
" clip-path="url(#p173bf9225e)" style="fill: none; stroke: #ff7f0e; stroke-width: 2; stroke-linecap: square"/>
   </g>
   <g id="line2d_17">
    <path d="M 92.290909 283.450155 
L 94.623197 266.018885 
L 96.955486 264.483488 
L 99.287774 274.599044 
L 101.620063 282.727616 
L 103.952351 276.405393 
L 106.284639 273.695869 
L 108.616928 290.856187 
L 110.949216 281.824441 
L 113.281505 273.695869 
L 115.613793 275.050631 
L 117.946082 287.695076 
L 120.27837 280.469679 
L 122.610658 282.727616 
L 124.942947 289.501425 
L 127.275235 272.792695 
L 129.607524 273.695869 
L 131.939812 273.244282 
L 134.2721 277.308568 
L 136.604389 280.469679 
L 141.268966 272.341108 
L 143.601254 272.341108 
L 145.933542 273.244282 
L 148.265831 287.695076 
L 150.598119 269.631584 
L 152.930408 284.082378 
L 155.262696 251.116504 
L 157.594984 250.935869 
L 159.927273 269.179996 
L 162.259561 266.018885 
L 164.59185 259.696663 
L 169.256426 267.825234 
L 171.588715 276.405393 
L 173.921003 285.43714 
L 176.253292 284.082378 
L 178.58558 293.385076 
L 183.250157 266.018885 
L 185.582445 292.210949 
L 187.914734 282.095393 
L 190.247022 286.340314 
L 192.57931 286.791902 
L 194.911599 295.552695 
L 197.243887 283.63079 
L 199.576176 269.631584 
L 201.908464 269.360631 
L 204.240752 297.449362 
L 206.573041 281.824441 
L 208.905329 270.083171 
L 211.237618 279.566505 
L 213.569906 284.082378 
L 215.902194 290.856187 
L 218.234483 305.577934 
L 220.566771 284.533965 
L 222.89906 280.830949 
L 225.231348 291.307775 
L 227.563636 298.894442 
L 229.895925 301.152378 
L 232.228213 300.068569 
L 234.560502 306.842378 
L 236.89279 285.43714 
L 239.225078 286.340314 
L 241.557367 266.018885 
L 243.889655 262.677139 
L 246.221944 284.533965 
L 248.554232 293.294759 
L 250.88652 279.114917 
L 253.218809 269.902536 
L 255.551097 270.986346 
L 257.883386 274.599044 
L 260.215674 279.566505 
L 262.547962 280.469679 
L 264.880251 286.159679 
L 267.212539 280.921266 
L 269.544828 266.289838 
L 271.877116 277.489203 
L 274.209404 275.050631 
L 276.541693 287.966029 
L 278.873981 274.599044 
L 281.20627 267.373647 
L 283.538558 267.193012 
L 285.870846 280.469679 
L 288.203135 272.070155 
L 290.535423 275.050631 
L 292.867712 269.179996 
L 295.2 258.161266 
L 297.532288 260.407422 
L 299.864577 254.807739 
L 302.196865 237.918374 
L 304.529154 240.356945 
L 306.861442 246.22758 
L 309.19373 251.375676 
L 311.526019 233.854088 
L 313.858307 241.711707 
L 316.190596 263.839485 
L 318.522884 264.562025 
L 320.855172 267.000597 
L 323.187461 263.839485 
L 325.519749 268.355359 
L 330.184326 244.692183 
L 332.516614 246.22758 
L 334.848903 258.420438 
L 337.181191 268.806946 
L 339.51348 266.819962 
L 341.845768 244.421231 
L 344.178056 252.369168 
L 346.510345 255.710914 
L 348.842633 265.194247 
L 351.174922 244.421231 
L 353.50721 258.872025 
L 355.839498 255.981866 
L 358.171787 277.748375 
L 360.504075 263.387898 
L 365.168652 261.129962 
L 367.50094 260.717643 
L 369.833229 237.235102 
L 372.165517 246.718436 
L 374.497806 260.266055 
L 376.830094 234.073991 
L 379.162382 232.719229 
L 381.494671 250.782722 
L 383.826959 252.137484 
L 386.159248 259.362881 
L 388.491536 227.751769 
L 390.823824 237.68669 
L 393.156113 227.751769 
L 395.488401 213.933197 
L 397.82069 223.687483 
L 400.152978 232.267642 
L 402.485266 214.655737 
L 404.817555 227.300182 
L 407.149843 225.042245 
L 409.482132 225.94542 
L 411.81442 209.868911 
L 414.146708 213.933197 
L 416.478997 224.771293 
L 418.811285 212.578435 
L 421.143574 209.868911 
L 423.475862 224.13907 
L 425.80815 225.94542 
L 428.140439 225.042245 
L 430.472727 220.526372 
L 432.805016 212.578435 
L 435.137304 208.062562 
L 437.469592 194.105242 
L 439.801881 217.949052 
L 442.134169 221.832703 
L 444.466458 202.685401 
L 446.798746 196.814766 
L 449.131034 202.233813 
L 451.463323 209.188258 
L 453.795611 200.879051 
L 456.1279 203.136988 
L 458.460188 204.943337 
L 460.792476 213.523496 
L 463.124765 189.589369 
L 465.457053 194.556829 
L 467.789342 204.040163 
L 470.12163 198.169528 
L 472.453918 191.395718 
L 474.786207 194.376194 
L 477.118495 181.912384 
L 479.450784 176.944924 
L 481.783072 180.196353 
L 484.115361 181.460797 
L 486.447649 174.867622 
L 488.779937 181.189845 
L 491.112226 194.376194 
L 493.444514 188.415242 
L 495.776803 157.978257 
L 498.109091 156.171907 
L 498.109091 156.171907 
" clip-path="url(#p173bf9225e)" style="fill: none; stroke: #2ca02c; stroke-width: 2; stroke-linecap: square"/>
   </g>
   <g id="LineCollection_1">
    <path d="M 92.290909 282.963226 
L 498.109091 282.963226 
" clip-path="url(#p173bf9225e)" style="fill: none; stroke-dasharray: 1.75,2.8875; stroke-dashoffset: 0; stroke: #808080; stroke-width: 1.75"/>
   </g>
   <g id="text_17">
    <text style="font-size: 8px; font-family: 'DejaVu Sans', 'Bitstream Vera Sans', 'Computer Modern Sans Serif', 'Lucida Grande', 'Verdana', 'Geneva', 'Lucid', 'Arial', 'Helvetica', 'Avant Garde', sans-serif; text-anchor: start" x="76.464" y="114.6024" transform="rotate(-0 76.464 114.6024)">Data set built at: 2024-07-25T16:49:24+00:00</text>
   </g>
   <g id="patch_7">
    <path d="M 490.318637 95.757913 
L 516.95855 95.757913 
L 516.95855 82.797545 
L 490.318637 82.797545 
z
" clip-path="url(#p173bf9225e)" style="fill: #d3d3d3; opacity: 0.56"/>
   </g>
   <g id="patch_8">
    <path d="M 490.678636 95.397903 
L 516.598551 95.397903 
L 516.598551 83.157555 
L 490.678636 83.157555 
L 490.678636 95.397903 
z
" clip-path="url(#p173bf9225e)" style="fill: none; fill-opacity: 0.56; stroke-opacity: 0.56; stroke: #808080; stroke-width: 0.72; stroke-linejoin: miter"/>
   </g>
   <g id="patch_9">
    <path d="M 490.318637 136.079058 
L 516.95855 136.079058 
L 516.95855 123.83871 
L 490.318637 123.83871 
z
" clip-path="url(#p173bf9225e)" style="fill: #d3d3d3; opacity: 0.56"/>
   </g>
   <g id="patch_10">
    <path d="M 490.678636 135.719047 
L 516.598551 135.719047 
L 516.598551 124.19872 
L 490.678636 124.19872 
L 490.678636 135.719047 
z
" clip-path="url(#p173bf9225e)" style="fill: none; fill-opacity: 0.56; stroke-opacity: 0.56; stroke: #808080; stroke-width: 0.72; stroke-linejoin: miter"/>
   </g>
   <g id="patch_11">
    <path d="M 490.318637 176.760212 
L 516.95855 176.760212 
L 516.95855 164.159855 
L 490.318637 164.159855 
z
" clip-path="url(#p173bf9225e)" style="fill: #d3d3d3; opacity: 0.56"/>
   </g>
   <g id="patch_12">
    <path d="M 490.678636 176.400202 
L 516.598551 176.400202 
L 516.598551 164.519865 
L 490.678636 164.519865 
L 490.678636 176.400202 
z
" clip-path="url(#p173bf9225e)" style="fill: none; fill-opacity: 0.56; stroke-opacity: 0.56; stroke: #808080; stroke-width: 0.72; stroke-linejoin: miter"/>
   </g>
   <g id="patch_13">
    <path d="M 281.519317 348.341082 
L 514.294559 348.341082 
L 514.294559 331.204596 
L 281.519317 331.204596 
z
" clip-path="url(#p173bf9225e)" style="fill: #ff0000; opacity: 0.3"/>
   </g>
   <g id="patch_14">
    <path d="M 281.879316 347.981072 
L 513.93456 347.981072 
L 513.93456 331.564606 
L 281.879316 331.564606 
L 281.879316 347.981072 
z
" clip-path="url(#p173bf9225e)" style="fill: none; fill-opacity: 0.14; stroke-opacity: 0.14; stroke: #ff0000; stroke-width: 0.72; stroke-linejoin: miter"/>
   </g>
   <g id="text_18">
    <text style="font-size: 12.05px; font-family: 'DejaVu Sans', 'Bitstream Vera Sans', 'Computer Modern Sans Serif', 'Lucida Grande', 'Verdana', 'Geneva', 'Lucid', 'Arial', 'Helvetica', 'Avant Garde', sans-serif; text-anchor: middle" x="295.2" y="41.52" transform="rotate(-0 295.2 41.52)">HadCRUT5: land and sea temperature anomalies relative to 1880-1920</text>
   </g>
   <g id="text_19">
    <text style="font-size: 6.4px; font-family: 'DejaVu Sans', 'Bitstream Vera Sans', 'Computer Modern Sans Serif', 'Lucida Grande', 'Verdana', 'Geneva', 'Lucid', 'Arial', 'Helvetica', 'Avant Garde', sans-serif; font-stretch: condensed; text-anchor: start" x="493.846626" y="91.07778" transform="rotate(-0 493.846626 91.07778)">1.98°C</text>
   </g>
   <g id="text_20">
    <text style="font-size: 6.4px; font-family: 'DejaVu Sans', 'Bitstream Vera Sans', 'Computer Modern Sans Serif', 'Lucida Grande', 'Verdana', 'Geneva', 'Lucid', 'Arial', 'Helvetica', 'Avant Garde', sans-serif; font-stretch: condensed; text-anchor: start" x="493.846626" y="132.010942" transform="rotate(-0 493.846626 132.010942)">1.59°C</text>
   </g>
   <g id="text_21">
    <text style="font-size: 6.4px; font-family: 'DejaVu Sans', 'Bitstream Vera Sans', 'Computer Modern Sans Serif', 'Lucida Grande', 'Verdana', 'Geneva', 'Lucid', 'Arial', 'Helvetica', 'Avant Garde', sans-serif; font-stretch: condensed; text-anchor: start" x="493.846626" y="172.332086" transform="rotate(-0 493.846626 172.332086)">1.20°C</text>
   </g>
   <g id="text_22">
    <text style="font-size: 8.05px; font-family: 'DejaVu Sans', 'Bitstream Vera Sans', 'Computer Modern Sans Serif', 'Lucida Grande', 'Verdana', 'Geneva', 'Lucid', 'Arial', 'Helvetica', 'Avant Garde', sans-serif; text-anchor: end" x="509.51664" y="342.07272" transform="rotate(-0 509.51664 342.07272)">current global anomaly (2024): +1.59°C, max: +1.59°C</text>
   </g>
   <g id="legend_1">
    <g id="patch_15">
     <path d="M 78.944 101.04274 
L 219.7553 101.04274 
Q 221.7393 101.04274 221.7393 99.05874 
L 221.7393 54.464 
Q 221.7393 52.48 219.7553 52.48 
L 78.944 52.48 
Q 76.96 52.48 76.96 54.464 
L 76.96 99.05874 
Q 76.96 101.04274 78.944 101.04274 
z
" style="fill: #ffffff; fill-opacity: 0.3; stroke-opacity: 0.3; stroke: #cccccc; stroke-linejoin: miter"/>
    </g>
    <g id="line2d_18">
     <path d="M 81.64 61.65765 
L 91.56 61.65765 
L 101.48 61.65765 
" style="fill: none; stroke: #1f77b4; stroke-width: 2; stroke-linecap: square"/>
    </g>
    <g id="text_23">
     <text style="font-size: 9.92px; font-family: 'DejaVu Sans', 'Bitstream Vera Sans', 'Computer Modern Sans Serif', 'Lucida Grande', 'Verdana', 'Geneva', 'Lucid', 'Arial', 'Helvetica', 'Avant Garde', sans-serif; text-anchor: start" x="109.2" y="64.48165" transform="rotate(-0 109.2 64.48165)">Global</text>
    </g>
    <g id="line2d_19">
     <path d="M 81.64 76.67467 
L 91.56 76.67467 
L 101.48 76.67467 
" style="fill: none; stroke: #ff7f0e; stroke-width: 2; stroke-linecap: square"/>
    </g>
    <g id="text_24">
     <text style="font-size: 9.92px; font-family: 'DejaVu Sans', 'Bitstream Vera Sans', 'Computer Modern Sans Serif', 'Lucida Grande', 'Verdana', 'Geneva', 'Lucid', 'Arial', 'Helvetica', 'Avant Garde', sans-serif; text-anchor: start" x="109.2" y="79.49867" transform="rotate(-0 109.2 79.49867)">Northern Hemisphere</text>
    </g>
    <g id="line2d_20">
     <path d="M 81.64 91.69169 
L 91.56 91.69169 
L 101.48 91.69169 
" style="fill: none; stroke: #2ca02c; stroke-width: 2; stroke-linecap: square"/>
    </g>
    <g id="text_25">
     <text style="font-size: 9.92px; font-family: 'DejaVu Sans', 'Bitstream Vera Sans', 'Computer Modern Sans Serif', 'Lucida Grande', 'Verdana', 'Geneva', 'Lucid', 'Arial', 'Helvetica', 'Avant Garde', sans-serif; text-anchor: start" x="109.2" y="94.51569" transform="rotate(-0 109.2 94.51569)">Southern Hemisphere</text>
    </g>
   </g>
  </g>
 </g>
 <defs>
  <clipPath id="p173bf9225e">
   <rect x="72" y="47.52" width="446.4" height="304.92"/>
  </clipPath>
 </defs>
<g id="frame"><rect x="72.000" y="47.520" width="447.120" height="0.720" fill="#000"/><rect x="72.000" y="352.800" width="447.120" height="0.720" fill="#000"/><rect x="72.000" y="47.520" width="0.720" height="306.000" fill="#000"/><rect x="518.400" y="47.520" width="0.720" height="306.000" fill="#000"/><rect x="92.160" y="352.800" width="0.720" height="3.816" fill="#000"/><rect x="150.480" y="352.800" width="0.720" height="3.816" fill="#000"/><rect x="208.800" y="352.800" width="0.720" height="3.816" fill="#000"/><rect x="267.120" y="352.800" width="0.720" height="3.816" fill="#000"/><rect x="325.440" y="352.800" width="0.720" height="3.816" fill="#000"/><rect x="383.760" y="352.800" width="0.720" height="3.816" fill="#000"/><rect x="442.080" y="352.800" width="0.720" height="3.816" fill="#000"/><rect x="500.400" y="352.800" width="0.720" height="3.816" fill="#000"/><rect x="68.616" y="335.520" width="3.744" height="0.720" fill="#000"/><rect x="68.616" y="282.960" width="3.744" height="0.720" fill="#000"/><rect x="68.616" y="230.400" width="3.744" height="0.720" fill="#000"/><rect x="68.616" y="177.840" width="3.744" height="0.720" fill="#000"/><rect x="68.616" y="125.280" width="3.744" height="0.720" fill="#000"/><rect x="68.616" y="72.720" width="3.744" height="0.720" fill="#000"/></g>
</svg>

</body></html>
